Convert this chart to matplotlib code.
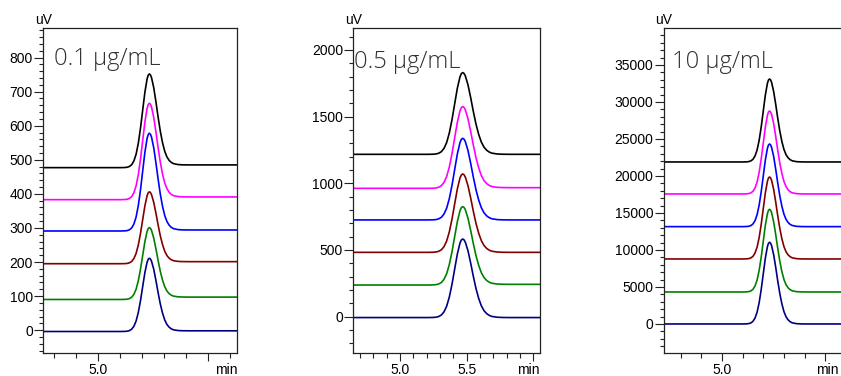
import numpy as np
import matplotlib.pyplot as plt
from matplotlib.ticker import MultipleLocator, FixedLocator

# trace colours, bottom to top
colors = ['#000080', '#008000', '#800000', '#0000ff', '#ff00ff', '#000000']

# common peak profile (offset from apex in min, fraction of height)
peak_dt = [-0.26, -0.22, -0.20, -0.18, -0.16, -0.14, -0.12, -0.10, -0.08, -0.06,
           -0.04, -0.02, -0.01, 0.0, 0.01, 0.02, 0.04, 0.06, 0.08, 0.10,
           0.12, 0.14, 0.16, 0.18, 0.20, 0.22, 0.26, 0.30, 0.36]
peak_shape = [0.0, 0.0015, 0.0046, 0.013, 0.032, 0.072, 0.144, 0.261, 0.423, 0.616,
              0.807, 0.948, 0.987, 1.0, 0.99, 0.96, 0.85, 0.695, 0.525, 0.37,
              0.245, 0.15, 0.088, 0.05, 0.027, 0.014, 0.004, 0.001, 0.0]

# 0.1 ug/mL
rt_01 = 5.464
base_left_01 = [-4, 90, 195, 291, 383, 477]
base_right_01 = [-2, 97, 201, 294, 391, 485]
apex_01 = [211, 301, 406, 578, 666, 752]

# 0.5 ug/mL
rt_05 = 5.47
base_left_05 = [-7, 237, 482, 725, 962, 1217]
base_right_05 = [-7, 242, 482, 725, 967, 1217]
apex_05 = [582, 825, 1070, 1337, 1575, 1830]

# 10 ug/mL
rt_10 = 5.46
base_left_10 = [0, 4325, 8785, 13155, 17570, 21894]
base_right_10 = [0, 4325, 8785, 13155, 17570, 21894]
apex_10 = [11037, 15497, 19867, 24327, 28787, 33112]

W, H = 841, 376


def DrawPanel(rect, xlim, ylim, rt, bl, br, apex, label, label_pos,
              xmajor, xlabels, xminor, ymajor, yminor, min_right=None):
    ax = fig.add_axes(rect)
    dt = np.array(peak_dt)
    p = np.array(peak_shape)
    left = dt <= 0
    right = dt > 0
    for c, b0, b1, a in zip(colors, bl, br, apex):
        x = np.concatenate([[xlim[0]], rt + dt[left], rt + dt[right], [xlim[1]]])
        y = np.concatenate([[b0], b0 + (a - b0) * p[left],
                            b1 + (a - b1) * p[right], [b1]])
        ax.plot(x, y, color=c, lw=1.2, solid_joinstyle='round')

    ax.set_xlim(xlim)
    ax.set_ylim(ylim)
    ax.xaxis.set_major_locator(FixedLocator(xmajor))
    ax.set_xticklabels(xlabels)
    ax.xaxis.set_minor_locator(MultipleLocator(xminor))
    ax.yaxis.set_major_locator(MultipleLocator(ymajor))
    ax.yaxis.set_minor_locator(MultipleLocator(yminor))
    ax.tick_params(axis='x', which='major', length=6, width=0.8, pad=1,
                   labelsize=10, color='#222222')
    ax.tick_params(axis='x', which='minor', length=3.5, width=0.8, color='#222222')
    ax.tick_params(axis='y', which='major', length=6.5, width=0.8, pad=1,
                   labelsize=10, color='#222222')
    ax.tick_params(axis='y', which='minor', length=3, width=0.8, color='#222222')
    for s in ax.spines.values():
        s.set_color('#222222')
        s.set_linewidth(0.9)

    # 'min' sits at the right end of the time axis (kept inside the figure)
    if min_right is None:
        ax.annotate('min', xy=(1, 0), xycoords='axes fraction', xytext=(0, -7),
                    textcoords='offset points', ha='right', va='top', fontsize=10)
    else:
        ax.annotate('min', xy=(min_right / W, 0),
                    xycoords=('figure fraction', 'axes fraction'), xytext=(0, -7),
                    textcoords='offset points', ha='right', va='top', fontsize=10)
    ax.annotate('uV', xy=(0, 1), xycoords='axes fraction', xytext=(0, 1),
                textcoords='offset points', ha='center', va='bottom', fontsize=10)
    # label position given in figure pixels (left edge, baseline)
    fig.text(label_pos[0] / W, 1 - label_pos[1] / H, label, ha='left',
             va='baseline', fontsize=17, color='#333333',
             family=['Open Sans', 'DejaVu Sans'], fontweight='light')
    return ax


plt.rcParams['font.family'] = ['Liberation Sans', 'DejaVu Sans']
fig = plt.figure(figsize=(W / 100, H / 100), dpi=100)

bottom = (H - 353.3) / H
height = 325 / H

DrawPanel([43.3 / W, bottom, 194 / W, height], (4.5, 6.264), (-68, 886),
          rt_01, base_left_01, base_right_01, apex_01, '0.1 µg/mL', (54, 65),
          [5.0, 6.0], ['5.0', ''], 0.2, 100, 20)
DrawPanel([353.3 / W, bottom, 186.7 / W, height], (4.65, 6.05), (-275, 2162),
          rt_05, base_left_05, base_right_05, apex_05, '0.5 µg/mL', (354, 67.5),
          [5.0, 5.5, 6.0], ['5.0', '5.5', ''], 0.1, 500, 100)
DrawPanel([664 / W, bottom, 181 / W, height], (4.44, 6.19), (-3964, 39960),
          rt_10, base_left_10, base_right_10, apex_10, '10 µg/mL', (672, 68),
          [5.0, 6.0], ['5.0', ''], 0.2, 5000, 1000, min_right=839)

fig.savefig('out.png', dpi=100)
